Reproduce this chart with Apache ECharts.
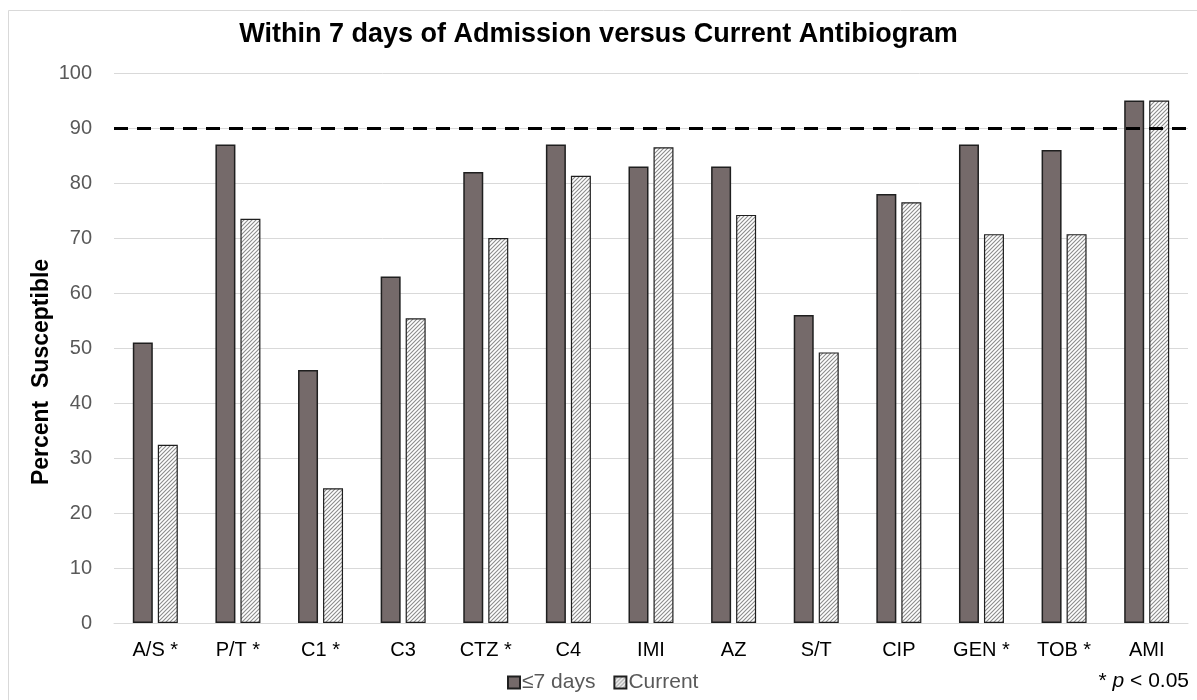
<!DOCTYPE html>
<html>
<head>
<meta charset="utf-8">
<script src="https://cdn.jsdelivr.net/npm/echarts@6/dist/echarts.min.js"></script>
<style>html,body{margin:0;padding:0;background:#fff;}#c{width:1197px;height:700px;}</style>
</head>
<body>
<div id="c"></div>
<script>
const categories = ['A/S *', 'P/T *', 'C1 *', 'C3', 'CTZ *', 'C4', 'IMI', 'AZ', 'S/T', 'CIP', 'GEN *', 'TOB *', 'AMI'];
const within7Days = [51, 87, 46, 63, 82, 87, 83, 83, 56, 78, 87, 86, 95];
const current = [32.4, 73.5, 24.5, 55.4, 70, 81.3, 86.5, 74.2, 49.2, 76.5, 70.7, 70.7, 95];
const yTicks = [0, 100, 10];
const threshold = 90;

function hatch() {
  const c = document.createElement('canvas');
  c.width = 4; c.height = 4;
  const g = c.getContext('2d');
  g.fillStyle = '#ffffff'; g.fillRect(0, 0, 4, 4);
  g.strokeStyle = '#8c8c8c'; g.lineWidth = 1.1;
  g.beginPath();
  g.moveTo(0, 4); g.lineTo(4, 0);
  g.moveTo(-1, 1); g.lineTo(1, -1);
  g.moveTo(3, 5); g.lineTo(5, 3);
  g.stroke();
  return c;
}

const chart = echarts.init(document.getElementById('c'), null, {renderer: 'canvas'});
chart.setOption({
  animation: false,
  backgroundColor: '#ffffff',
  title: {
    text: 'Within 7 days of Admission versus Current Antibiogram',
    left: 'center', top: 16,
    textStyle: {fontFamily: 'Liberation Sans', fontWeight: 'bold', fontSize: 27, color: '#000'}
  },
  graphic: [
    {type: 'rect', shape: {x: 8.5, y: 10.5, width: 1200, height: 700}, style: {fill: 'none', stroke: '#d9d9d9', lineWidth: 1}, silent: true},
    {type: 'text', x: 42, y: 372, rotation: Math.PI / 2, style: {
      text: 'Percent  Susceptible', align: 'center', verticalAlign: 'middle',
      fontFamily: 'Liberation Sans', fontWeight: 'bold', fontSize: 23, fill: '#000'
    }},
    {type: 'text', right: 8, top: 671, style: {
      text: '{a|* }{b|p}{a| < 0.05}',
      rich: {
        a: {fontFamily: 'Liberation Sans', fontSize: 21, fill: '#000'},
        b: {fontFamily: 'Liberation Sans', fontSize: 21, fontStyle: 'italic', fill: '#000'}
      }
    }}
  ],
  legend: {
    bottom: 2, left: 502,
    icon: 'rect',
    itemWidth: 12, itemHeight: 12, itemGap: 18,
    textStyle: {fontFamily: 'Liberation Sans', fontSize: 21, color: '#595959', padding: [0, 0, 0, -3]},
    data: ['≤7 days', 'Current']
  },
  grid: {left: 114, right: 9, top: 73, bottom: 77, containLabel: false},
  xAxis: {
    type: 'category', data: categories,
    axisLine: {lineStyle: {color: '#d9d9d9'}},
    axisTick: {show: false},
    axisLabel: {fontFamily: 'Liberation Sans', fontSize: 20, color: '#000', margin: 17}
  },
  yAxis: {
    type: 'value', min: yTicks[0], max: yTicks[1], interval: yTicks[2],
    axisLine: {show: false}, axisTick: {show: false},
    axisLabel: {fontFamily: 'Liberation Sans', fontSize: 20, color: '#595959', margin: 22},
    splitLine: {lineStyle: {color: '#d9d9d9', width: 1}}
  },
  series: [
    {
      name: '≤7 days', type: 'bar', data: within7Days,
      barWidth: 20, barGap: '25%',
      itemStyle: {color: '#756a6a', borderColor: '#1f1f1f', borderWidth: 1.5},
      markLine: {
        silent: true, symbol: 'none', label: {show: false},
        lineStyle: {color: '#000', width: 3, type: [14, 9]},
        data: [{yAxis: threshold}]
      }
    },
    {
      name: 'Current', type: 'bar', data: current,
      barWidth: 20,
      itemStyle: {color: {image: hatch(), repeat: 'repeat'}, borderColor: '#1f1f1f', borderWidth: 1.2}
    }
  ]
});
</script>
</body>
</html>
